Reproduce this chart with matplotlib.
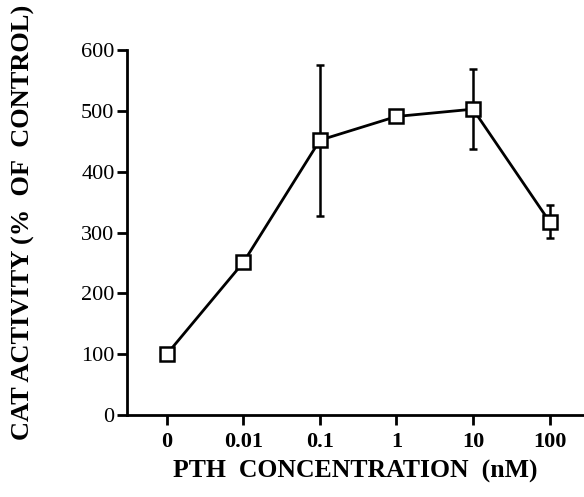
import numpy as np
import matplotlib
matplotlib.use("Agg")
import matplotlib.pyplot as plt

conc_labels = ["0", "0.01", "0.1", "1", "10", "100"]
cat_activity = [100, 251, 452, 491, 503, 318]
cat_err = [0, 10, 124, 0, 66, 27]
y_ticks = [0, 100, 200, 300, 400, 500, 600]

plt.rcParams['font.family'] = ['Liberation Serif', 'DejaVu Serif']

fig = plt.figure(figsize=(5.84, 4.97), dpi=100)
ax = fig.add_axes([0.2175, 0.165, 0.7825, 0.734])

x = np.arange(len(conc_labels))
ax.errorbar(x, cat_activity, yerr=cat_err, color="black", lw=2, elinewidth=1.8,
            capsize=3, capthick=1.8, marker="s", ms=10, mfc="white", mec="black",
            mew=1.8, zorder=3)

ax.set_xlim(-0.52, 5.45)
ax.set_ylim(0, 600)
ax.set_yticks(y_ticks)
ax.set_yticklabels([str(v) for v in y_ticks], fontsize=16)
ax.set_xticks(x)
ax.set_xticklabels(conc_labels, fontsize=16, fontweight="bold")

for s in ["top", "right"]:
    ax.spines[s].set_visible(False)
for s in ["left", "bottom"]:
    ax.spines[s].set_linewidth(2)
ax.tick_params(axis="both", width=2, length=7, direction="out")
ax.tick_params(axis="y", pad=2)
ax.tick_params(axis="x", pad=5)

ax.set_xlabel("PTH  CONCENTRATION  (nM)", fontsize=18.5, fontweight="bold", labelpad=6)
fig.text(0.04, 0.553, "CAT ACTIVITY (%  OF  CONTROL)", fontsize=19, fontweight="bold",
         rotation=90, ha="center", va="center")

fig.savefig("out.png", dpi=100)
